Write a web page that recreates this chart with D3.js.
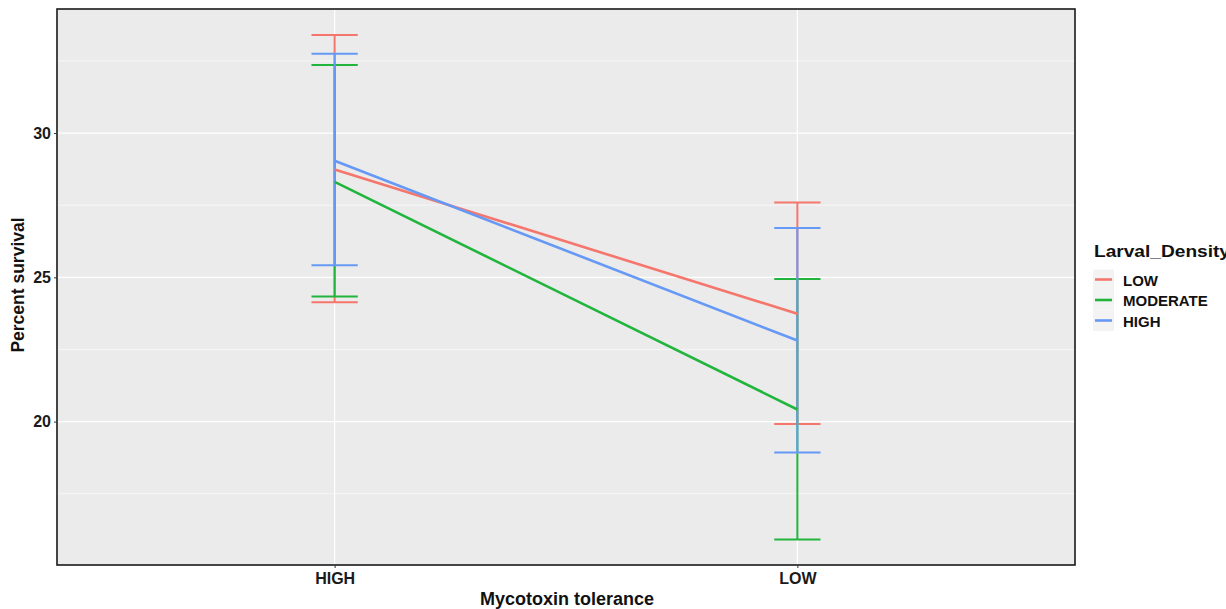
<html>
<head>
<script src="https://cdnjs.cloudflare.com/ajax/libs/d3/7.8.5/d3.min.js"></script>
<style>
  body { margin: 0; background: #fff; }
  text { font-family: "Liberation Sans", Arial, sans-serif; font-weight: bold; }
</style>
</head>
<body>
<script>
// data
var tolerance = ["HIGH", "LOW"];
var densities = ["LOW", "MODERATE", "HIGH"];
var colors = ["#F5766C", "#22B53E", "#6699F5"];
var means = { LOW: [28.74, 23.74], MODERATE: [28.31, 20.42], HIGH: [29.04, 22.81] };
var upper = { LOW: [33.40, 27.59], MODERATE: [32.36, 24.94], HIGH: [32.75, 26.71] };
var lower = { LOW: [24.14, 19.92], MODERATE: [24.34, 15.91], HIGH: [25.42, 18.93] };
var yTicks = [20, 25, 30];
var yMinor = [17.5, 22.5, 27.5, 32.5];

var width = 1226, height = 609;
var margin = { left: 57, top: 9, right: 151, bottom: 44 };
var pw = width - margin.left - margin.right;
var ph = height - margin.top - margin.bottom;

var svg = d3.select("body").append("svg")
  .attr("width", width).attr("height", height);

var g = svg.append("g")
  .attr("transform", "translate(" + margin.left + "," + margin.top + ")");

// ggplot-like discrete expansion
var xScale = d3.scaleLinear().domain([0.4, 2.6]).range([0, pw]);
var xPos = d => xScale(tolerance.indexOf(d) + 1);
var yScale = d3.scaleLinear().domain([15.03, 34.3]).range([ph, 0]);

g.append("rect").attr("width", pw).attr("height", ph).attr("fill", "#EBEBEB");

// grid
g.selectAll(".minor").data(yMinor).enter().append("line")
  .attr("x1", 0).attr("x2", pw)
  .attr("y1", d => yScale(d)).attr("y2", d => yScale(d))
  .attr("stroke", "#fff").attr("stroke-width", 0.6);
g.selectAll(".major").data(yTicks).enter().append("line")
  .attr("x1", 0).attr("x2", pw)
  .attr("y1", d => yScale(d)).attr("y2", d => yScale(d))
  .attr("stroke", "#fff").attr("stroke-width", 1.2);
g.selectAll(".vmajor").data(tolerance).enter().append("line")
  .attr("x1", xPos).attr("x2", xPos)
  .attr("y1", 0).attr("y2", ph)
  .attr("stroke", "#fff").attr("stroke-width", 1.2);

// error bars
var capHalf = (xScale(1.05) - xScale(1));
densities.forEach(function(d, i) {
  tolerance.forEach(function(t, j) {
    var x = xPos(t);
    var eb = g.append("g").attr("stroke", colors[i]).attr("stroke-width", 2);
    eb.append("line").attr("x1", x).attr("x2", x)
      .attr("y1", yScale(upper[d][j])).attr("y2", yScale(lower[d][j]));
    eb.append("line").attr("x1", x - capHalf).attr("x2", x + capHalf)
      .attr("y1", yScale(upper[d][j])).attr("y2", yScale(upper[d][j]));
    eb.append("line").attr("x1", x - capHalf).attr("x2", x + capHalf)
      .attr("y1", yScale(lower[d][j])).attr("y2", yScale(lower[d][j]));
  });
});

// mean lines
var line = d3.line().x(d => xPos(d.t)).y(d => yScale(d.v));
densities.forEach(function(d, i) {
  var pts = tolerance.map((t, j) => ({ t: t, v: means[d][j] }));
  g.append("path").attr("d", line(pts))
    .attr("fill", "none").attr("stroke", colors[i]).attr("stroke-width", 2.6);
});

// panel border
g.append("rect").attr("width", pw).attr("height", ph)
  .attr("fill", "none").attr("stroke", "#1a1a1a").attr("stroke-width", 1.6);

// axes
var yAxis = d3.axisLeft(yScale).tickValues(yTicks).tickSize(3).tickPadding(3);
var ya = g.append("g").call(yAxis);
ya.select(".domain").remove();
ya.selectAll("line").attr("stroke", "#333");
ya.selectAll("text").attr("font-size", 16).attr("fill", "#1a1a1a");

var xAxis = d3.axisBottom(d3.scalePoint().domain(tolerance).range([xPos("HIGH"), xPos("LOW")]))
  .tickSize(3).tickPadding(5);
var xa = g.append("g").attr("transform", "translate(0," + ph + ")").call(xAxis);
xa.select(".domain").remove();
xa.selectAll("line").attr("stroke", "#333");
xa.selectAll("text").attr("font-size", 16).attr("fill", "#1a1a1a");

// axis titles
svg.append("text")
  .attr("x", 567).attr("y", 605)
  .attr("text-anchor", "middle").attr("font-size", 18).attr("fill", "#111")
  .text("Mycotoxin tolerance");
svg.append("text")
  .attr("transform", "translate(24," + (margin.top + ph / 2 - 2) + ") rotate(-90)")
  .attr("text-anchor", "middle").attr("font-size", 17.5).attr("fill", "#111")
  .text("Percent survival");

// legend
var lg = svg.append("g").attr("transform", "translate(1094,0)");
lg.append("text").attr("x", 0).attr("y", 257)
  .attr("font-size", 16).attr("textLength", 136).attr("lengthAdjust", "spacingAndGlyphs")
  .attr("fill", "#111").text("Larval_Density");
densities.forEach(function(d, i) {
  var cy = 279.5 + i * 20.5;
  lg.append("rect").attr("x", -1).attr("y", cy - 10).attr("width", 21).attr("height", 20.5)
    .attr("fill", "#F3F3F3");
  lg.append("line").attr("x1", 1).attr("x2", 18).attr("y1", cy).attr("y2", cy)
    .attr("stroke", colors[i]).attr("stroke-width", 2.6);
  lg.append("text").attr("x", 29).attr("y", cy + 6)
    .attr("font-size", 15).attr("fill", "#111").text(d);
});
</script>
</body>
</html>
